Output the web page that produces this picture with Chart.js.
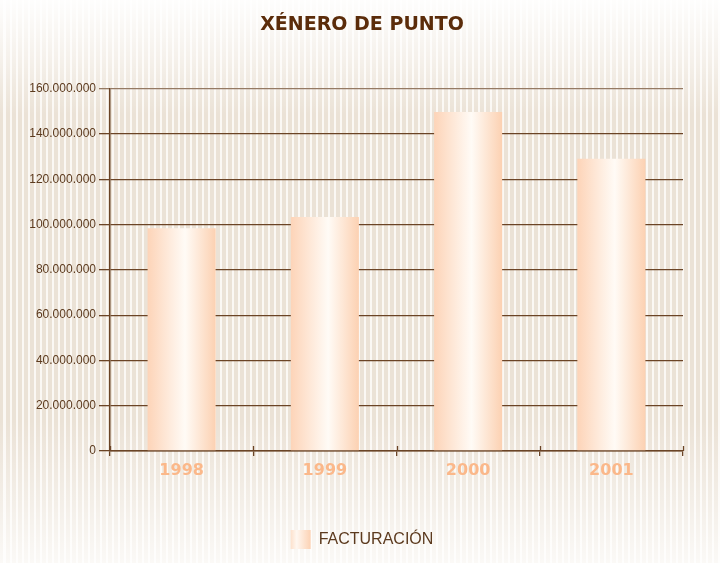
<!DOCTYPE html>
<html>
<head>
<meta charset="utf-8">
<script src="https://cdn.jsdelivr.net/npm/chart.js@4"></script>
<style>
  body { margin: 0; background: #fff; }
  #wrap {
    position: relative;
    width: 720px;
    height: 563px;
    background:
      linear-gradient(to bottom, rgba(255,255,255,0.95) 0px, rgba(255,255,255,0.55) 55px, rgba(255,255,255,0) 115px, rgba(255,255,255,0) 420px, rgba(255,255,255,0.4) 495px, rgba(255,255,255,0.8) 563px),
      repeating-linear-gradient(90deg, #ebe2d6 0px, #ebe2d6 3.5px, #fbf8f4 3.5px, #fbf8f4 6px);
  }
</style>
</head>
<body>
<div id="wrap"><canvas id="chart"></canvas></div>
<script>
// data
var years = ["1998", "1999", "2000", "2001"];
var facturacion = [98400000, 103400000, 149800000, 129100000];
var yTickLabels = ["0", "20.000.000", "40.000.000", "60.000.000", "80.000.000",
                   "100.000.000", "120.000.000", "140.000.000", "160.000.000"];

var brown = "#6b4426";

function barGradient(ctx, left, right) {
    var g = ctx.createLinearGradient(left, 0, right, 0);
    g.addColorStop(0, "#fdd4b8");
    g.addColorStop(0.55, "#fffbf6");
    g.addColorStop(1, "#fcd1b2");
    return g;
}

// ticks that cross the x axis line (above part)
var crossTicks = {
    id: "crossTicks",
    afterDraw: function(chart) {
        var x = chart.scales.x;
        var ctx = chart.ctx;
        var step = x.getPixelForValue(1) - x.getPixelForValue(0);
        ctx.save();
        ctx.strokeStyle = brown;
        ctx.lineWidth = 1.3;
        for (var i = 0; i <= years.length; i++) {
            var px = Math.round(x.getPixelForValue(i) - step / 2) + 0.5;
            ctx.beginPath();
            ctx.moveTo(px, x.top - 5);
            ctx.lineTo(px, x.top);
            ctx.stroke();
        }
        ctx.restore();
    }
};

// gradient for the legend box
var legendFill = {
    id: "legendFill",
    beforeDraw: function(chart) {
        var lg = chart.legend;
        if (!lg || !lg.legendHitBoxes || !lg.legendHitBoxes.length) return;
        var hb = lg.legendHitBoxes[0];
        var g = chart.ctx.createLinearGradient(hb.left, 0, hb.left + 20, 0);
        g.addColorStop(0, "#fde1cc");
        g.addColorStop(0.3, "#fff7f0");
        g.addColorStop(1, "#fcd2b4");
        lg.legendItems[0].fillStyle = g;
        lg.legendItems[0].strokeStyle = "rgba(0,0,0,0)";
        lg.legendItems[0].lineWidth = 0;
    }
};

var ctx = document.getElementById("chart").getContext("2d");
var chart = new Chart(ctx, {
    type: "bar",
    data: {
        labels: years,
        datasets: [{
            label: "FACTURACIÓN",
            data: facturacion,
            borderWidth: 0,
            barPercentage: 0.475,
            categoryPercentage: 1,
            backgroundColor: function(c) {
                var ch = c.chart;
                if (!ch.chartArea || c.dataIndex === undefined) return "#fde0cb";
                var x = ch.scales.x;
                var step = x.getPixelForValue(1) - x.getPixelForValue(0);
                var w = step * 0.475;
                var cx = x.getPixelForValue(c.dataIndex);
                return barGradient(ch.ctx, cx - w / 2, cx + w / 2);
            }
        }]
    },
    options: {
        responsive: true,
        maintainAspectRatio: false,
        animation: false,
        layout: { padding: { left: 4, right: 0, top: 0, bottom: 4 } },
        plugins: {
            title: {
                display: true,
                text: "XÉNERO DE PUNTO",
                color: "#5b2c0a",
                font: { family: "DejaVu Sans", size: 19, weight: "bold" },
                padding: { top: 14, bottom: 52 }
            },
            legend: {
                position: "bottom",
                labels: {
                    boxWidth: 20,
                    boxHeight: 19,
                    color: "#5c3a1e",
                    font: { family: "Liberation Sans", size: 16 },
                    padding: 10
                }
            },
            tooltip: { enabled: false }
        },
        scales: {
            x: {
                offset: true,
                grid: {
                    offset: true,
                    drawOnChartArea: false,
                    tickLength: 5,
                    color: brown,
                    lineWidth: 1.3
                },
                border: { color: brown, width: 1.5 },
                ticks: {
                    color: "#fbb88a",
                    padding: 5,
                    font: { family: "DejaVu Sans", size: 16, weight: "bold" }
                },
                afterFit: function(scale) { scale.height = 69; }
            },
            y: {
                min: 0,
                max: 160000000,
                grid: {
                    tickLength: 11,
                    lineWidth: 1.3,
                    color: function(c) {
                        return c.index === yTickLabels.length - 1 ? "#957a63" : brown;
                    }
                },
                border: { color: brown, width: 1.5 },
                ticks: {
                    stepSize: 20000000,
                    padding: 3,
                    color: "#5c3a1e",
                    font: { family: "Liberation Sans", size: 12 },
                    callback: function(v, i) { return yTickLabels[i]; }
                },
                afterFit: function(scale) { scale.width = 106; }
            },
            // empty right margin so the title and legend centre like the original
            yRight: {
                position: "right",
                grid: { display: false },
                border: { display: false },
                ticks: { display: false },
                afterFit: function(scale) { scale.width = 37; }
            }
        }
    },
    plugins: [crossTicks, legendFill]
});
</script>
</body>
</html>
